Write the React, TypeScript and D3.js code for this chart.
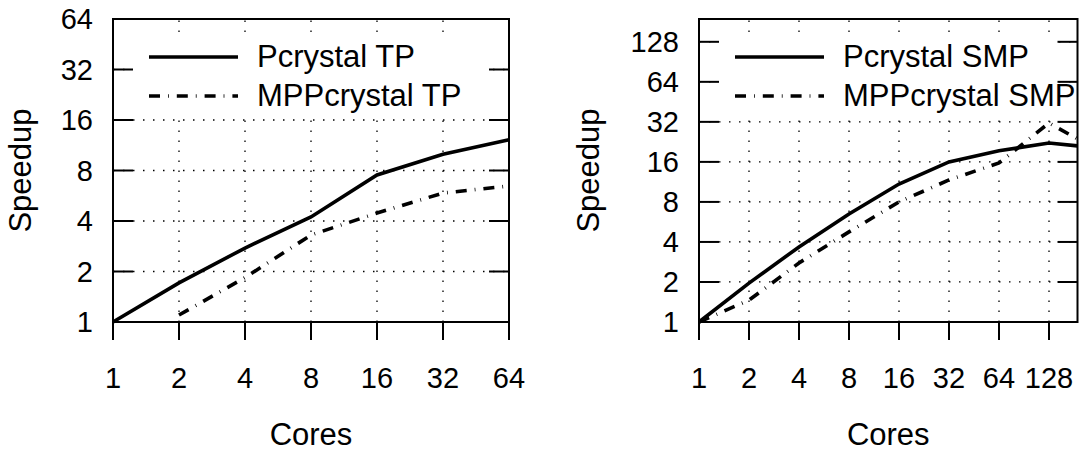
import * as d3 from 'd3';
import React from 'react';

// cores (x) for each series
const tpCores = [1, 2, 4, 8, 16, 32, 64];
const mppTpCores = [2, 4, 8, 16, 32, 64];
const smpCores = [1, 2, 4, 8, 16, 32, 64, 128, 190];

// speedup values
const pcrystalTP = [1.0, 1.71, 2.76, 4.23, 7.52, 10.0, 12.2];
const mppcrystalTP = [1.1, 1.84, 3.3, 4.46, 5.87, 6.47];
const pcrystalSMP = [1.0, 1.96, 3.67, 6.5, 10.9, 16.0, 19.4, 22.2, 21.1];
const mppcrystalSMP = [1.0, 1.46, 2.78, 4.76, 8.0, 11.7, 15.7, 31.4, 23.8];

// tick labels
const tpTicks = [1, 2, 4, 8, 16, 32, 64];
const smpTicks = [1, 2, 4, 8, 16, 32, 64, 128];

const FONT = 'Liberation Sans, Arial, sans-serif';
const DASH = '11 8 0.8 8';

type Series = { name: string; cores: number[]; values: number[]; dash?: string };

function Panel({ left, right, maxVal, ticks, series, titleX }: {
  left: number; right: number; maxVal: number; ticks: number[]; series: Series[]; titleX: number;
}) {
  const top = 19, bottom = 322;
  const x = d3.scaleLog().base(2).domain([1, maxVal]).range([left, right]);
  const y = d3.scaleLog().base(2).domain([1, maxVal]).range([bottom, top]);
  const line = d3.line<[number, number]>().x(d => x(d[0])).y(d => y(d[1]));

  const legX0 = left + 36, legX1 = left + 125, legText = left + 144;

  return (
    <g>
      {/* dotted grid */}
      {ticks.map(t => (
        <g key={'g' + t}>
          {t > 1 && x(t) < right - 1 && (
            <line x1={x(t)} x2={x(t)} y1={bottom} y2={top} stroke="#000" strokeWidth={1.3} strokeDasharray="1.5 8.5" />
          )}
          {t > 1 && y(t) > top + 1 && (
            <line x1={left} x2={right} y1={y(t)} y2={y(t)} stroke="#000" strokeWidth={1.3} strokeDasharray="1.5 8.5" />
          )}
        </g>
      ))}

      {/* data */}
      {series.map(s => (
        <path key={s.name}
          d={line(s.cores.map((c, i) => [c, s.values[i]] as [number, number])) || ''}
          fill="none" stroke="#000" strokeWidth={3.6} strokeDasharray={s.dash} />
      ))}

      {/* legend with opaque box */}
      <rect x={left + 20} y={40} width={right - left - 40} height={77} fill="#fff" />
      {series.map((s, i) => (
        <g key={'l' + s.name}>
          <line x1={legX0} x2={legX1} y1={57 + i * 39} y2={57 + i * 39} stroke="#000" strokeWidth={3.6} strokeDasharray={s.dash} />
          <text x={legText} y={67 + i * 38.5} fontSize={31} fontFamily={FONT}>{s.name}</text>
        </g>
      ))}

      {/* frame */}
      <rect x={left} y={top} width={right - left} height={bottom - top} fill="none" stroke="#000" strokeWidth={2} />

      {/* y ticks, mirrored inward */}
      {ticks.filter(t => t <= maxVal).map(t => (
        <g key={'y' + t}>
          <line x1={left} x2={left + 20} y1={y(t)} y2={y(t)} stroke="#000" strokeWidth={2} />
          <line x1={right - 20} x2={right} y1={y(t)} y2={y(t)} stroke="#000" strokeWidth={2} />
          <text x={left - 20} y={y(t) + 10} textAnchor="end" fontSize={29} fontFamily={FONT}>{t}</text>
        </g>
      ))}

      {/* x ticks, outward */}
      {ticks.map(t => (
        <g key={'x' + t}>
          <line x1={x(t)} x2={x(t)} y1={bottom} y2={bottom + 18} stroke="#000" strokeWidth={2} />
          <text x={x(t)} y={388} textAnchor="middle" fontSize={29} fontFamily={FONT}>{t}</text>
        </g>
      ))}

      {/* axis titles */}
      <text x={(left + right) / 2} y={445} textAnchor="middle" fontSize={31} fontFamily={FONT}>Cores</text>
      <text transform={`translate(${titleX},${(top + bottom) / 2}) rotate(-90)`} textAnchor="middle" fontSize={31} fontFamily={FONT}>Speedup</text>
    </g>
  );
}

export default function App() {
  const tpSeries: Series[] = [
    { name: 'Pcrystal TP', cores: tpCores, values: pcrystalTP },
    { name: 'MPPcrystal TP', cores: mppTpCores, values: mppcrystalTP, dash: DASH },
  ];
  const smpSeries: Series[] = [
    { name: 'Pcrystal SMP', cores: smpCores, values: pcrystalSMP },
    { name: 'MPPcrystal SMP', cores: smpCores, values: mppcrystalSMP, dash: DASH },
  ];
  return (
    <div style={{ position: 'absolute', left: 0, top: 0 }}>
      <svg width={1086} height={452} style={{ display: 'block', background: '#fff' }}>
        <Panel left={113} right={509} maxVal={64} ticks={tpTicks} series={tpSeries} titleX={31} />
        <Panel left={699} right={1077.5} maxVal={190} ticks={smpTicks} series={smpSeries} titleX={599} />
      </svg>
    </div>
  );
}
